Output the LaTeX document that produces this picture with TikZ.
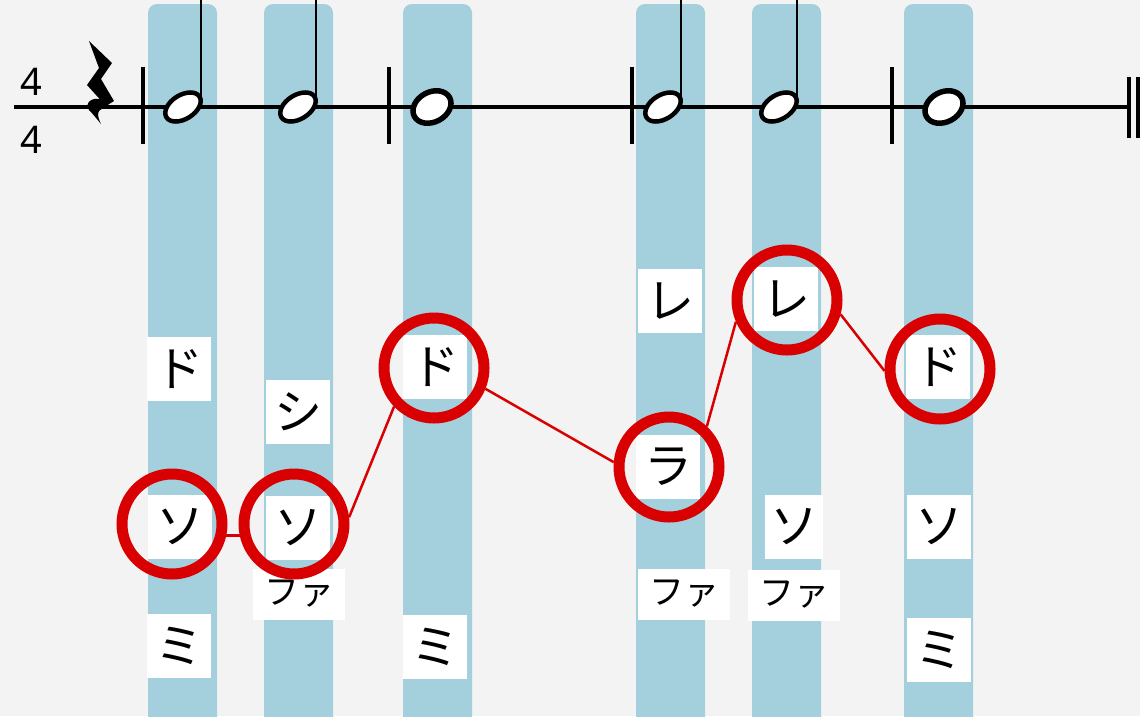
\documentclass[tikz,border=0pt]{standalone}
\usepackage{fontspec}
\setmainfont{Noto Sans}
\newfontfamily\jpfont{Noto Sans CJK JP}

\definecolor{bggray}{HTML}{F3F3F3}
\definecolor{laneblue}{HTML}{A4D0DD}
\definecolor{ringred}{HTML}{D80000}

\tikzset{
  lane/.style={fill=laneblue, rounded corners=9pt},
  syl/.style={fill=white, minimum width=64pt, minimum height=64pt, inner sep=0pt,
    font=\jpfont\fontsize{48}{48}\selectfont},
  sylwide/.style={fill=white, minimum width=92pt, minimum height=51pt, inner sep=0pt,
    font=\jpfont\fontsize{35}{35}\selectfont},
  ring/.style={circle, draw=ringred, line width=11pt, minimum size=100pt, inner sep=0pt},
  link/.style={ringred, line width=2.5pt},
  staffline/.style={line width=4pt},
  timesig/.style={font=\fontsize{38}{38}\selectfont},
}

\begin{document}
\begin{tikzpicture}[x=1pt, y=-1pt]
  % Canvas
  \fill[bggray] (0,0) rectangle (1140,716);
  \useasboundingbox (0,0) rectangle (1140,716);
  \clip (0,0) rectangle (1140,716);

  % Blue lanes, one per note
  \foreach \xl in {148,264,403,636,752,904}
    \fill[lane] (\xl,4) rectangle ++(69,740);

  % Staff line and bar lines
  \draw[staffline] (14,107) -- (1128,107);
  \foreach \xb in {143,389,632,892}
    \draw[staffline] (\xb,67) -- (\xb,144);
  \draw[staffline] (1129,77) -- (1129,138);
  \draw[staffline] (1138,77) -- (1138,138);

  % Time signature
  \node[timesig] (tstop) at (31,82) {4};
  \node[timesig] (tsbot) at (31,140) {4};

  % Quarter rest
  \fill (89,41) -- (112,63) -- (101,79) -- (114,101) -- (106,106) -- (87,85) -- (99,68) -- cycle;
  \fill (108,102) .. controls (95,94) and (83,102) .. (89,110)
    .. controls (93,114) and (96,118) .. (101,124)
    .. controls (96,114) and (97,108) .. (108,108) -- cycle;

  % Half notes
  \foreach \xn in {183,298,663,779} {
    \draw[line width=4.5pt, fill=white, rotate around={32:(\xn,107)}]
      (\xn,107) ellipse [x radius=19.5pt, y radius=12pt];
    \draw[line width=1.6pt] (\xn+18,101) -- (\xn+18,-2);
  }
  % Whole notes
  \foreach \xn in {432,944}
    \draw[line width=5.5pt, fill=white, rotate around={28:(\xn,107)}]
      (\xn,107) ellipse [x radius=20pt, y radius=15pt];

  % Syllables
  \node[syl] (do1) at (179,369) {ド};
  \node[syl] (so1) at (180,527) {ソ};
  \node[syl] (mi1) at (179,646) {ミ};
  \node[syl] (si2) at (298,412) {シ};
  \node[syl] (so2) at (298,528) {ソ};
  \node[sylwide] (fa2) at (299,594) {ファ};
  \node[syl] (do3) at (435,367) {ド};
  \node[syl] (mi3) at (435,647) {ミ};
  \node[syl] (re4) at (670,301) {レ};
  \node[syl] (ra4) at (668,467) {ラ};
  \node[sylwide] (fa4) at (684,594) {ファ};
  \node[syl] (re5) at (786,299) {レ};
  \node[syl, minimum width=58pt] (so5) at (794,527) {ソ};
  \node[sylwide] (fa5) at (794,595) {ファ};
  \node[syl] (do6) at (938,367) {ド};
  \node[syl] (so6) at (939,527) {ソ};
  \node[syl] (mi6) at (939,650) {ミ};

  % Melody rings
  \node[ring] (r1) at (172,524) {};
  \node[ring] (r2) at (294,524) {};
  \node[ring] (r3) at (434,368) {};
  \node[ring] (r4) at (669,467) {};
  \node[ring] (r5) at (787,300) {};
  \node[ring] (r6) at (940,369) {};

  % Melody line
  \draw[link] (r1.-12) -- (r2.192);
  \draw[link] (r2.7) -- (r3.224);
  \draw[link] (r3.-22) -- (r4.175);
  \draw[link] (r4.47) -- (r5.203);
  \draw[link] (r5.-15) -- (r6.182);
\end{tikzpicture}
\end{document}
